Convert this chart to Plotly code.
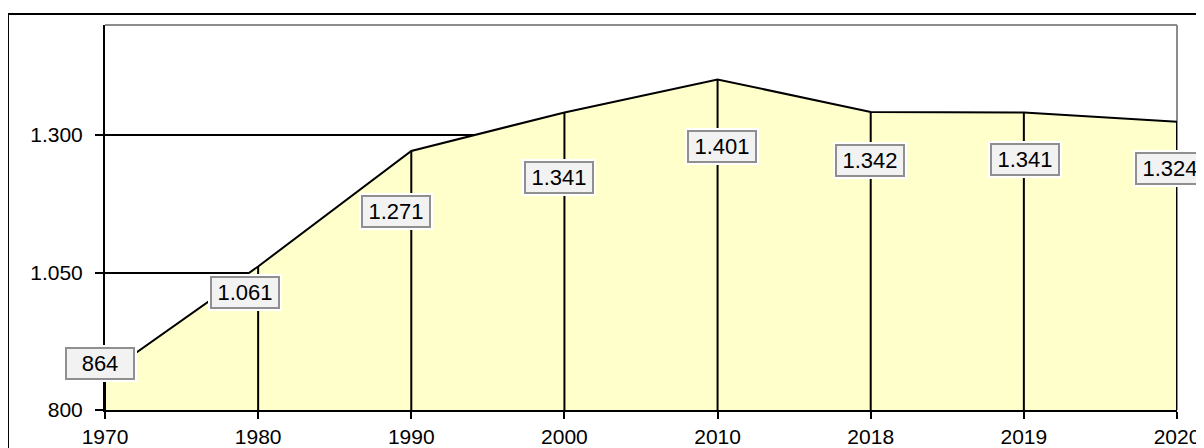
import plotly.graph_objects as go

# Data
years = ["1970", "1980", "1990", "2000", "2010", "2018", "2019", "2020"]
values = [864, 1061, 1271, 1341, 1401, 1342, 1341, 1324]
y_ticks = [800, 1050, 1300]
y_base = 800
y_top = 1500

# label offsets in px (manual placement as in the original)
label_dx = [-5, -13, -15, -5, 4, -1, 1, -7]
label_dy = [11, -26, -61, -65, -67, -49, -47, -47]

FONT = "Arial, Liberation Sans, sans-serif"


def fmt(v):
    return f"{v:,}".replace(",", ".")


fig = go.Figure()

# area + drop lines (error bars down to the base)
fig.add_trace(
    go.Scatter(
        x=years,
        y=values,
        mode="lines",
        fill="tozeroy",
        fillcolor="#FFFFCC",
        line=dict(color="black", width=2),
        error_y=dict(
            type="data",
            symmetric=False,
            array=[0] * len(values),
            arrayminus=[v - y_base for v in values],
            width=0,
            thickness=2,
            color="black",
        ),
        hoverinfo="x+y",
        showlegend=False,
    )
)

# data labels: white halo + gray box
for i, v in enumerate(values):
    fig.add_annotation(
        x=i, y=v, text=fmt(v), showarrow=False,
        xshift=label_dx[i], yshift=label_dy[i],
        width=74, height=37, borderpad=0, borderwidth=0,
        bgcolor="white", font=dict(family=FONT, size=22, color="white"),
    )
    fig.add_annotation(
        x=i, y=v, text=fmt(v), showarrow=False,
        xshift=label_dx[i], yshift=label_dy[i],
        width=64, height=27, borderpad=1, borderwidth=2,
        bgcolor="#F2F2F2", bordercolor="#8F8F8F",
        font=dict(family=FONT, size=22, color="black"),
    )

# gray top/right border of the plot area and outer chart border
fig.add_shape(type="line", xref="paper", yref="paper", x0=0, x1=1, y0=1, y1=1,
              line=dict(color="#8C8C8C", width=2), layer="above")
fig.add_shape(type="line", xref="paper", yref="paper", x0=1, x1=1, y0=0, y1=1,
              line=dict(color="#8C8C8C", width=2), layer="below")
fig.add_shape(type="rect", xref="paper", yref="paper",
              x0=-0.0905, x1=1.2, y0=-0.3, y1=1.0286,
              line=dict(color="black", width=2), layer="below")

fig.update_layout(
    width=1204,
    height=448,
    margin=dict(l=97, r=35, t=17, b=46),
    paper_bgcolor="white",
    plot_bgcolor="white",
    separators=",.",
    font=dict(family=FONT, size=21, color="black"),
)

fig.update_xaxes(
    type="category",
    range=[0, len(years) - 1],
    automargin=False,
    showgrid=False,
    showline=True,
    linecolor="black",
    linewidth=2,
    ticks="outside",
    ticklen=7,
    tickwidth=2,
    tickcolor="black",
    ticklabelstandoff=0,
    tickfont=dict(family=FONT, size=21),
)

fig.update_yaxes(
    range=[y_base, y_top],
    automargin=False,
    tickvals=y_ticks,
    tickformat=",d",
    showgrid=True,
    gridcolor="black",
    gridwidth=2,
    zeroline=False,
    showline=True,
    linecolor="black",
    linewidth=2,
    ticks="outside",
    ticklen=8,
    tickwidth=2,
    tickcolor="black",
    ticklabelstandoff=8,
    tickfont=dict(family=FONT, size=21),
)

fig.write_html("out.html")
